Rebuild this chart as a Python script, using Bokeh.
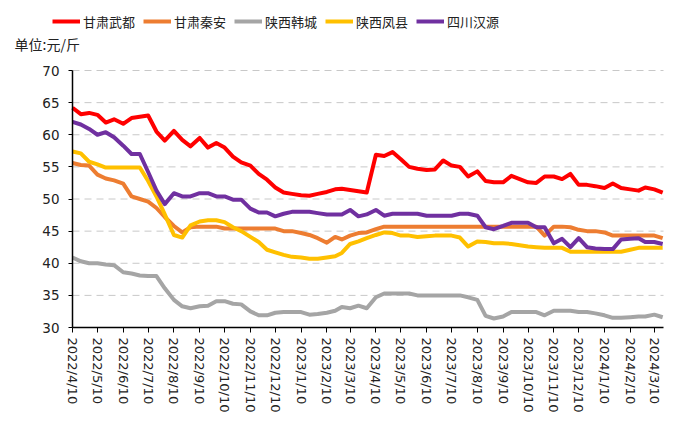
import datetime as dt
from bokeh.plotting import figure
from bokeh.models import Range1d, FixedTicker, Legend, LegendItem, Label
from bokeh.embed import file_html
from bokeh.resources import INLINE

# ---- data (元/斤), every ten days from 2022/4/10 to 2024/3/20 ----
start = dt.date(2022, 4, 10)
dates = []
y, m = 2022, 4
while len(dates) < 71:
    last = 28 if m == 2 else 30
    for d in (10, 20, last):
        if len(dates) < 71:
            dates.append(dt.date(y, m, d))
    m += 1
    if m > 12:
        m, y = 1, y + 1

gansu_wudu = [64.2, 63.2, 63.4, 63.1, 61.9, 62.4, 61.7, 62.6, 62.8, 63.0,
              60.5, 59.1, 60.6, 59.2, 58.2, 59.5, 58.0, 58.7, 58.0, 56.6,
              55.7, 55.2, 53.9, 53.0, 51.8, 51.0, 50.8, 50.6, 50.5, 50.8,
              51.1, 51.5, 51.6, 51.4, 51.2, 51.0, 56.9, 56.7, 57.3, 56.2,
              55.0, 54.7, 54.5, 54.6, 56.0, 55.2, 55.0, 53.5, 54.3, 52.8,
              52.6, 52.6, 53.6, 53.1, 52.6, 52.5, 53.5, 53.5, 53.1, 53.9,
              52.2, 52.2, 52.0, 51.7, 52.4, 51.7, 51.5, 51.3, 51.8, 51.5, 51.0]
gansu_qinan = [55.6, 55.3, 55.2, 53.8, 53.2, 52.9, 52.4, 50.4, 50.0, 49.6,
               48.6, 47.2, 45.8, 44.8, 45.6, 45.7, 45.7, 45.7, 45.4, 45.4,
               45.4, 45.4, 45.4, 45.4, 45.4, 45.0, 45.0, 44.7, 44.4, 43.9,
               43.2, 44.1, 43.7, 44.3, 44.7, 44.8, 45.3, 45.7, 45.7, 45.7,
               45.7, 45.7, 45.7, 45.7, 45.7, 45.7, 45.7, 45.7, 45.7, 45.7,
               45.7, 45.7, 45.7, 45.7, 45.7, 45.7, 44.3, 45.7, 45.7, 45.6,
               45.2, 45.0, 45.0, 44.8, 44.3, 44.3, 44.3, 44.3, 44.3, 44.3, 43.9]
shaanxi_hancheng = [40.9, 40.3, 40.0, 40.0, 39.8, 39.7, 38.6, 38.4, 38.1, 38.0,
                    38.0, 36.1, 34.3, 33.3, 33.0, 33.3, 33.4, 34.1, 34.1, 33.7,
                    33.6, 32.5, 31.9, 31.9, 32.3, 32.4, 32.4, 32.4, 32.0, 32.1,
                    32.3, 32.6, 33.2, 33.0, 33.4, 33.0, 34.7, 35.3, 35.3, 35.3,
                    35.3, 35.0, 35.0, 35.0, 35.0, 35.0, 35.0, 34.7, 34.3, 31.8,
                    31.4, 31.7, 32.4, 32.4, 32.4, 32.4, 31.9, 32.6, 32.6, 32.6,
                    32.4, 32.4, 32.2, 31.9, 31.5, 31.5, 31.6, 31.7, 31.7, 32.0, 31.6]
shaanxi_fengxian = [57.4, 57.1, 55.8, 55.4, 54.9, 54.9, 54.9, 54.9, 54.9, 52.8,
                    50.4, 47.6, 44.4, 44.0, 45.9, 46.5, 46.7, 46.7, 46.4, 45.6,
                    45.0, 44.1, 43.3, 42.1, 41.7, 41.3, 41.0, 40.9, 40.7, 40.7,
                    40.9, 41.1, 41.6, 43.0, 43.4, 43.9, 44.4, 44.8, 44.7, 44.3,
                    44.3, 44.1, 44.2, 44.3, 44.3, 44.3, 44.0, 42.6, 43.4, 43.3,
                    43.1, 43.1, 43.0, 42.8, 42.6, 42.5, 42.4, 42.4, 42.4, 41.8,
                    41.8, 41.8, 41.8, 41.8, 41.8, 41.8, 42.1, 42.4, 42.4, 42.4, 42.4]
sichuan_hanyuan = [62.0, 61.6, 60.9, 60.0, 60.4, 59.6, 58.3, 57.0, 57.0, 54.2,
                   51.3, 49.2, 50.9, 50.4, 50.4, 50.9, 50.9, 50.4, 50.4, 49.9,
                   49.9, 48.5, 47.9, 47.9, 47.3, 47.7, 48.0, 48.0, 48.0, 47.8,
                   47.6, 47.6, 47.6, 48.3, 47.3, 47.6, 48.3, 47.4, 47.7, 47.7,
                   47.7, 47.7, 47.4, 47.4, 47.4, 47.4, 47.7, 47.7, 47.4, 45.6,
                   45.3, 45.8, 46.3, 46.3, 46.3, 45.6, 45.6, 43.1, 43.8, 42.5,
                   43.9, 42.5, 42.3, 42.2, 42.2, 43.7, 43.8, 43.9, 43.3, 43.3, 43.0]

series_names = ["甘肃武都", "甘肃秦安", "陕西韩城", "陕西凤县", "四川汉源"]
series_values = [gansu_wudu, gansu_qinan, shaanxi_hancheng, shaanxi_fengxian, sichuan_hanyuan]
colors = ["#FF0000", "#ED7D31", "#A5A5A5", "#FFC000", "#7030A0"]
y_ticks = [30, 35, 40, 45, 50, 55, 60, 65, 70]

tick_dates = []
y, m = 2022, 4
while (y, m) <= (2024, 3):
    tick_dates.append(dt.date(y, m, 10))
    m += 1
    if m > 12:
        m, y = 1, y + 1
tick_labels = [f"{d.year}/{d.month}/{d.day}" for d in tick_dates]

x_days = [(d - start).days for d in dates]
tick_pos = [(d - start).days for d in tick_dates]
x_end = 711

# layout: whole canvas is the frame; axes are pinned inside it
W, H = 700, 422
left_px, right_px, top_px, bottom_px = 72, 663, 70, 327
kx = (right_px - left_px) / x_end
ky = (bottom_px - top_px) / (70 - 30)
x0 = -left_px / kx
x1 = (W - left_px) / kx
y0 = 30 - (H - bottom_px) / ky
y1 = 30 + bottom_px / ky

p = figure(width=W, height=H, output_backend="svg", toolbar_location=None,
           x_range=Range1d(x0, x1), y_range=Range1d(y0, y1),
           min_border=0)
p.outline_line_color = None
p.background_fill_color = "white"
p.border_fill_color = "white"
p.xgrid.visible = False
p.ygrid.visible = False

# dashed horizontal grid lines across the plotting area
p.segment(x0=[0] * (len(y_ticks) - 1), x1=[x_end] * (len(y_ticks) - 1),
          y0=y_ticks[1:], y1=y_ticks[1:], line_color="#C8C8C8", line_dash="7 5", line_width=1)

renderers = []
for name, vals, c in zip(series_names, series_values, colors):
    r = p.line(x_days, vals, line_color=c, line_width=4, line_join="round")
    renderers.append(r)

p.yaxis.fixed_location = 0
p.yaxis.bounds = (30, 70)
p.yaxis.ticker = FixedTicker(ticks=y_ticks)
p.yaxis.major_tick_out = 4
p.yaxis.major_tick_in = 0
p.yaxis.minor_tick_out = 0
p.yaxis.minor_tick_in = 0
p.yaxis.major_label_standoff = 9
p.yaxis.axis_line_width = 1.5
p.yaxis.axis_line_color = "black"
p.yaxis.major_label_text_font = "DejaVu Sans"
p.yaxis.major_label_text_font_size = "13.5px"
p.yaxis.major_label_text_color = "#222222"

p.xaxis.fixed_location = 30
p.xaxis.bounds = (0, x_end)
p.xaxis.ticker = FixedTicker(ticks=tick_pos)
p.xaxis.major_label_overrides = {t: l for t, l in zip(tick_pos, tick_labels)}
p.xaxis.major_label_orientation = "vertical"
p.xaxis.major_tick_out = 5
p.xaxis.major_tick_in = 0
p.xaxis.minor_tick_out = 0
p.xaxis.minor_tick_in = 0
p.xaxis.major_label_standoff = 5
p.xaxis.axis_line_width = 1.5
p.xaxis.axis_line_color = "black"
p.xaxis.major_label_text_font = "DejaVu Sans"
p.xaxis.major_label_text_font_size = "13px"
p.xaxis.major_label_text_color = "#222222"

legend = Legend(items=[LegendItem(label=n, renderers=[r]) for n, r in zip(series_names, renderers)],
                orientation="horizontal", location=(52, H - 31),
                glyph_width=28, glyph_height=20, label_standoff=3, spacing=8,
                padding=0, margin=0, border_line_color=None, background_fill_alpha=0,
                label_text_font="Noto Sans CJK SC", label_text_font_size="13px",
                label_text_color="#222222")
p.add_layout(legend)

unit = Label(x=14, y=H - 43, x_units="screen", y_units="screen", text="单位:元/斤",
             text_font="Noto Sans CJK SC", text_font_size="14px", text_baseline="middle",
             text_color="#222222")
p.add_layout(unit)

open("out.html", "w").write(file_html(p, INLINE))
